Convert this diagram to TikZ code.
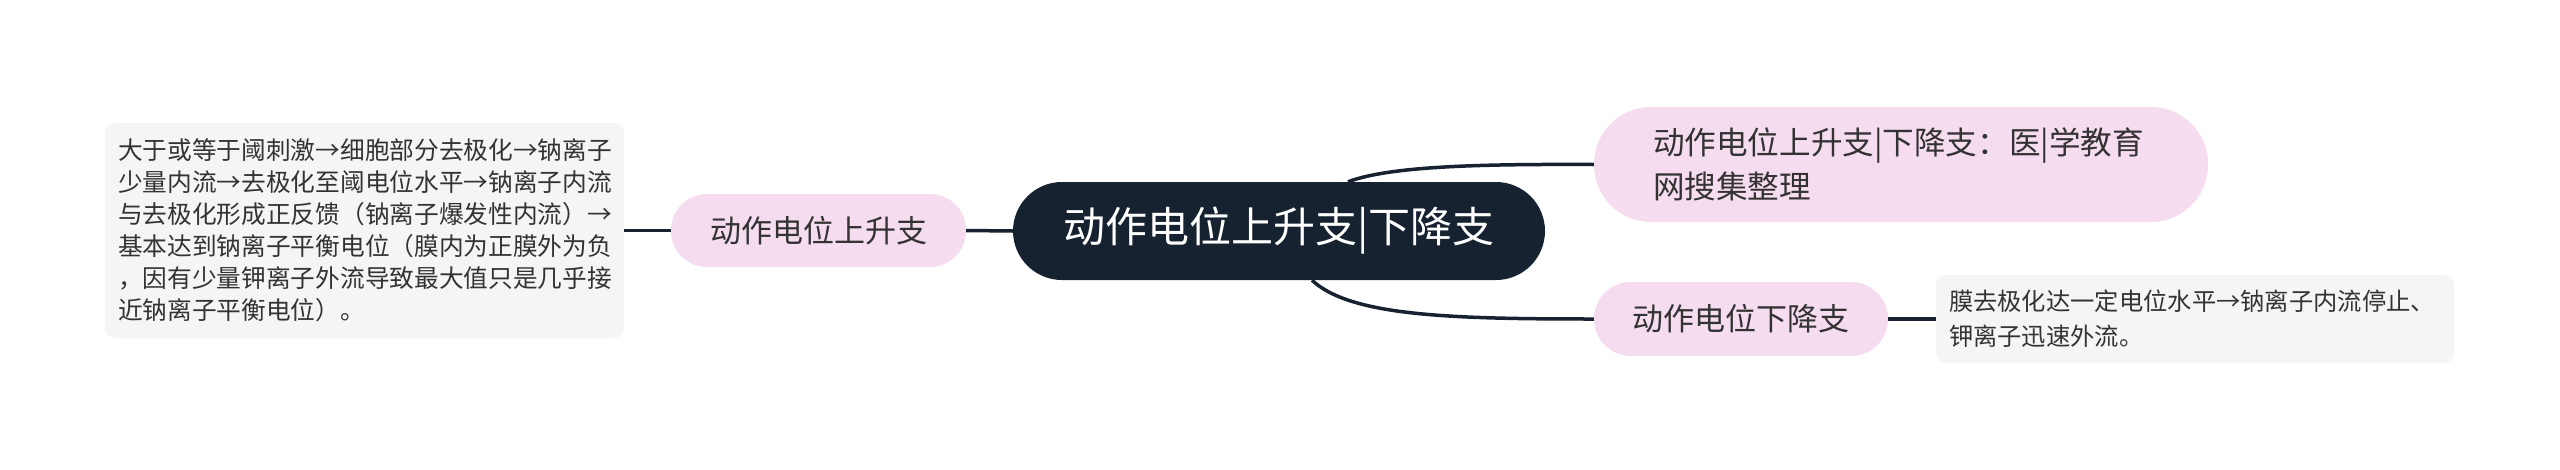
\documentclass[tikz,border=0pt]{standalone}
\usepackage{fontspec}
\newfontfamily\cjk{Noto Sans CJK SC}
\definecolor{navy}{HTML}{172231}
\definecolor{pinkfill}{HTML}{F6DCEF}
\definecolor{greyfill}{HTML}{F5F5F5}
\definecolor{txt}{HTML}{333333}
\tikzset{
  rootnode/.style={fill=navy, text=white, rounded corners=49pt, minimum width=532pt, minimum height=98pt, inner sep=0pt, font=\cjk\fontsize{42}{50}\selectfont},
  subnode/.style={fill=pinkfill, text=txt, inner sep=0pt, font=\cjk\fontsize{31}{44}\selectfont},
  notebox/.style={fill=greyfill, text=txt, rounded corners=10pt, inner ysep=0pt, inner xsep=13pt, align=left},
  link/.style={draw=navy, line width=3.5pt}
}
\begin{document}
\begin{tikzpicture}[x=1pt,y=-1pt]
\useasboundingbox[fill=white] (0,0) rectangle (2560,469);
\node[rootnode] (c) at (1279,231) {动作电位上升支|下降支};
\node[subnode, rounded corners=36pt, minimum width=295pt, minimum height=73pt] (l) at (818.5,230.5) {动作电位上升支};
\node[subnode, rounded corners=57pt, minimum width=614pt, minimum height=115pt, inner xsep=59pt, text width=496pt, align=left, font=\cjk\fontsize{31.6}{44}\selectfont] (tr) at (1901,164.5) {动作电位上升支|下降支：医|学教育\\网搜集整理};
\node[subnode, rounded corners=37pt, minimum width=294pt, minimum height=74pt] (br) at (1741,319) {动作电位下降支};
\node[notebox, minimum width=519pt, minimum height=215pt, text width=493pt, font=\cjk\fontsize{24.7}{32}\selectfont] (tl) at (364.5,230.5) {大于或等于阈刺激→细胞部分去极化→钠离子\\少量内流→去极化至阈电位水平→钠离子内流\\与去极化形成正反馈（钠离子爆发性内流）→\\基本达到钠离子平衡电位（膜内为正膜外为负\\，因有少量钾离子外流导致最大值只是几乎接\\近钠离子平衡电位）。};
\node[notebox, minimum width=518pt, minimum height=88pt, text width=492pt, font=\cjk\fontsize{24.3}{35}\selectfont] (brt) at (2195,319) {膜去极化达一定电位水平→钠离子内流停止、\\钾离子迅速外流。};
\draw[link] (tl.east) -- (l.west);
\draw[link] (l.east) -- (c.west);
\draw[link] ([xshift=69pt]c.north) .. controls (1390,166) and (1480,164) .. (tr.west);
\draw[link] ([xshift=33pt]c.south) .. controls (1350,316) and (1450,319) .. (br.west);
\draw[link] (br.east) -- (brt.west);
\end{tikzpicture}
\end{document}
